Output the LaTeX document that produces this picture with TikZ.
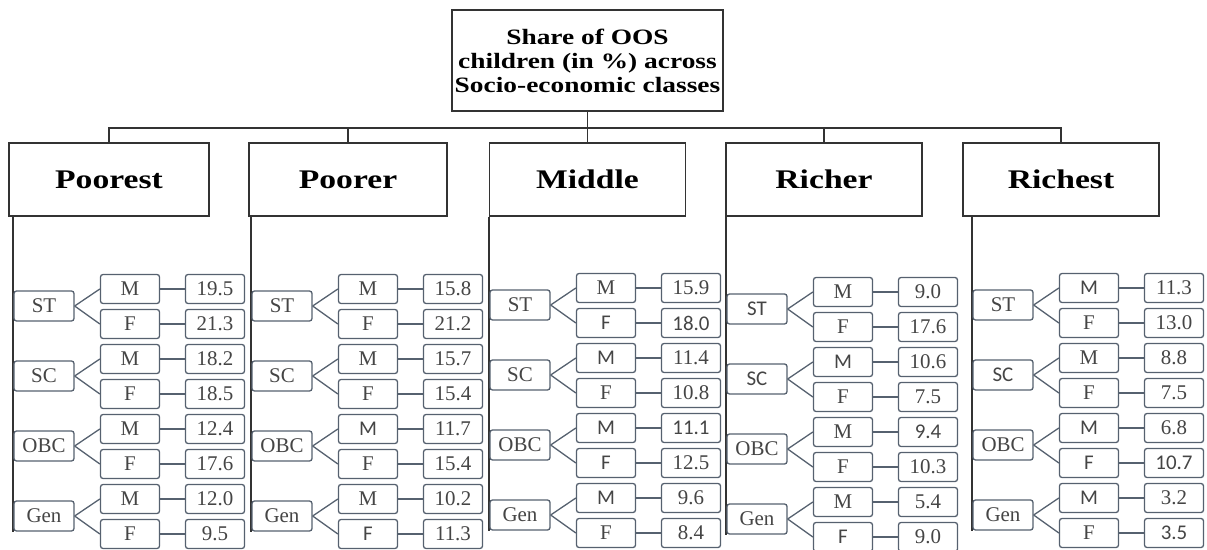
\documentclass[tikz,border=0pt]{standalone}
\usepackage{fontspec}
\setmainfont{Liberation Serif}
\newfontfamily\wideb{Liberation Serif}[FakeStretch=1.25]
\newfontfamily\calib{Carlito}
\usetikzlibrary{backgrounds}
\definecolor{linegray}{HTML}{333333}
\definecolor{slate}{HTML}{56616F}
\definecolor{txt}{HTML}{454545}
\tikzset{
  main/.style={draw=linegray, line width=1.4bp},
  vline/.style={draw=linegray, line width=1.8bp},
  link/.style={draw=slate, line width=1.3bp},
  topbox/.style={draw=linegray, line width=1.4bp, fill=white, inner sep=0pt,
    minimum width=271bp, minimum height=101bp, align=center,
    font=\wideb\bfseries\fontsize{22}{24}\selectfont},
  bigbox/.style={draw=linegray, line width=1.4bp, fill=white, inner sep=0pt,
    minimum height=73bp, font=\wideb\bfseries\fontsize{27}{30}\selectfont},
  catbox/.style={draw=slate, line width=1.3bp, rounded corners=2.5bp, fill=white,
    inner sep=0pt, minimum width=60bp, minimum height=30bp, text=txt,
    font=\fontsize{21}{24}\selectfont},
  subbox/.style={catbox, minimum width=59bp, minimum height=29bp},
}
\newcommand\grp[4]{%
  \foreach \r/\ct/\mt/\mv/\ft/\fv in {#4}{%
    \pgfmathsetmacro\cy{236+70*\r+(#3)}%
    \node[catbox] (#1\r) at ({#2+30},\cy) {\ct};
    \node[subbox] (#1\r-m) at ({#2+116},{\cy-17}) {\mt};
    \node[subbox] (#1\r-f) at ({#2+116},{\cy+18}) {\ft};
    \node[subbox] (#1\r-mv) at ({#2+201},{\cy-17}) {\mv};
    \node[subbox] (#1\r-fv) at ({#2+201},{\cy+18}) {\fv};
    \draw[link] (#1\r.east) -- (#1\r-m.west);
    \draw[link] (#1\r.east) -- (#1\r-f.west);
    \draw[link] (#1\r-m.east) -- (#1\r-mv.west);
    \draw[link] (#1\r-f.east) -- (#1\r-fv.west);
  }%
  \begin{pgfonlayer}{background}
    \draw[vline] (#1.south -| #11.west) -- (#14.south west);
  \end{pgfonlayer}
}
\begin{document}
\begin{tikzpicture}[x=1bp,y=-1bp]
\useasboundingbox (0,0) rectangle (1207,550);
\node[topbox] (top) at (587.5,60.5) {Share of OOS\\children (in \%) across\\Socio-economic classes};
\coordinate (bus) at (587.5,128);
\node[bigbox, minimum width=200bp] (A) at (109,179.5) {Poorest};
\node[bigbox, minimum width=198bp] (B) at (348,179.5) {Poorer};
\node[bigbox, minimum width=196bp] (C) at (587.5,179.5) {Middle};
\node[bigbox, minimum width=196bp] (D) at (824,179.5) {Richer};
\node[bigbox, minimum width=196bp] (E) at (1061,179.5) {Richest};
\draw[main] (top.south) -- (bus);
\foreach \c in {A,B,C,D,E} \draw[main] (\c.north) |- (bus);
\grp{A}{14}{0}{1/ST/M/19.5/F/21.3, 2/SC/M/18.2/F/18.5, 3/OBC/M/12.4/F/17.6, 4/Gen/M/12.0/F/9.5}
\grp{B}{252}{0}{1/ST/M/15.8/F/21.2, 2/SC/M/15.7/F/15.4, 3/OBC/\calib M/11.7/F/15.4, 4/Gen/M/10.2/\calib F/11.3}
\grp{C}{490}{-1}{1/ST/M/15.9/\calib F/\calib 18.0, 2/SC/\calib M/11.4/F/10.8, 3/OBC/\calib M/\calib 11.1/\calib F/12.5, 4/Gen/\calib M/9.6/F/8.4}
\grp{D}{727}{3}{1/\calib ST/M/9.0/F/17.6, 2/\calib SC/\calib M/10.6/F/7.5, 3/OBC/M/\calib 9.4/F/10.3, 4/Gen/M/5.4/\calib F/9.0}
\grp{E}{973}{-1}{1/ST/\calib M/11.3/F/13.0, 2/\calib SC/M/8.8/F/7.5, 3/OBC/\calib M/6.8/\calib F/\calib 10.7, 4/Gen/\calib M/3.2/F/\calib 3.5}
\end{tikzpicture}
\end{document}
